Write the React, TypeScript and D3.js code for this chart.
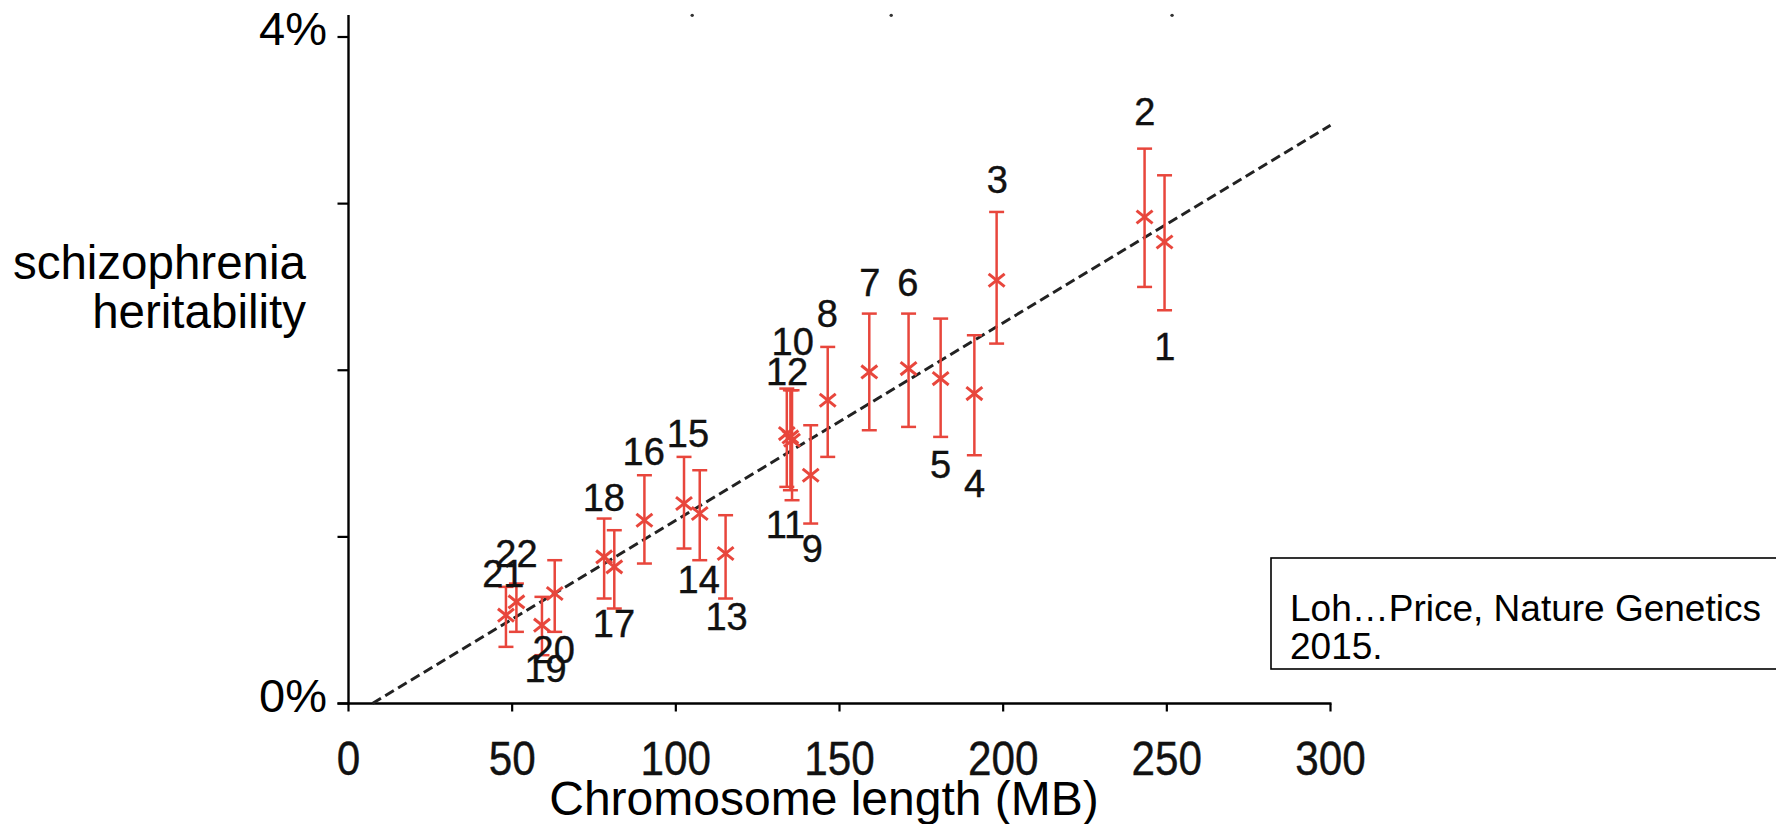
import React from "react";
import * as d3 from "d3";

// ---- data ----
const chromosomes = ["1","2","3","4","5","6","7","8","9","10","11","12","13","14","15","16","17","18","19","20","21","22"];
const lengthMB = [249.3, 243.2, 198.0, 191.2, 180.9, 171.1, 159.1, 146.4, 141.2, 135.5, 135.0, 133.9, 115.2, 107.3, 102.5, 90.4, 81.2, 78.1, 59.1, 63.0, 48.1, 51.3];
const heritability = [2.77, 2.92, 2.54, 1.86, 1.95, 2.01, 1.99, 1.82, 1.37, 1.58, 1.60, 1.62, 0.90, 1.14, 1.20, 1.10, 0.82, 0.88, 0.47, 0.66, 0.53, 0.61];
const errLow = [2.36, 2.50, 2.16, 1.49, 1.60, 1.66, 1.64, 1.48, 1.08, 1.22, 1.28, 1.30, 0.63, 0.86, 0.93, 0.84, 0.57, 0.63, 0.29, 0.43, 0.34, 0.43];
const errHigh = [3.17, 3.33, 2.95, 2.21, 2.31, 2.34, 2.34, 2.14, 1.67, 1.88, 1.88, 1.89, 1.13, 1.40, 1.48, 1.37, 1.04, 1.11, 0.64, 0.86, 0.70, 0.72];
// label anchor positions in data units (MB, %)
const labelMB = [249.4, 243.3, 198.2, 191.3, 180.9, 170.9, 159.3, 146.3, 141.7, 135.7, 133.5, 134.0, 115.5, 107.0, 103.7, 90.2, 81.1, 78.0, 60.2, 62.7, 47.3, 51.3];
const labelPct = [2.062, 3.472, 3.062, 1.241, 1.352, 2.446, 2.446, 2.262, 0.849, 2.092, 0.993, 1.912, 0.441, 0.665, 1.541, 1.432, 0.401, 1.157, 0.131, 0.241, 0.697, 0.821];
// regression (dashed) line endpoints
const fitMB = [7.3, 300];
const fitPct = [0, 3.47];
// tiny marks at the top of the picture
const topDotMB = [105, 165.8, 251.6];
const topDotPct = 4.13;

const xTicks = [0, 50, 100, 150, 200, 250, 300];
const yTicks = [0, 1, 2, 3, 4];
const yTickLabels: Record<number, string> = { 0: "0%", 4: "4%" };
const xTitle = "Chromosome length (MB)";
const yTitle = ["schizophrenia", "heritability"];
const citation = ["Loh\u2026Price, Nature Genetics", "2015."];

const RED = "#e8463c";
const FONT = "'Liberation Sans', Arial, Helvetica, sans-serif";

export default function App() {
  const x = d3.scaleLinear().domain([0, 300]).range([348.5, 1330.5]);
  const y = d3.scaleLinear().domain([0, 4]).range([703.5, 37]);

  const fitLine = d3.line<number>()
    .x((_, i) => x(fitMB[i]))
    .y((d) => y(d));

  const capHalf = 7.5;
  const mk = 8;

  return (
    <svg width={1776} height={824} style={{ position: "absolute", left: 0, top: 0, background: "#fff" }} fontFamily={FONT}>
      <rect x={0} y={0} width={1776} height={824} fill="#fff" />

      {/* top dots */}
      {topDotMB.map((m, i) => (
        <circle key={"td" + i} cx={x(m)} cy={y(topDotPct)} r={1.7} fill="#333" />
      ))}

      {/* axes */}
      <line x1={x(0)} x2={x(0)} y1={15} y2={y(0) + 1} stroke="#000" strokeWidth={2.4} />
      <line x1={x(0) - 11} x2={x(300) + 1} y1={y(0)} y2={y(0)} stroke="#000" strokeWidth={2.4} />
      {yTicks.map((t) => (
        <line key={"yt" + t} x1={x(0) - 11} x2={x(0)} y1={y(t)} y2={y(t)} stroke="#000" strokeWidth={2.2} />
      ))}
      {xTicks.map((t) => (
        <line key={"xt" + t} x1={x(t)} x2={x(t)} y1={y(0)} y2={y(0) + 8} stroke="#000" strokeWidth={2.2} />
      ))}
      {yTicks.filter((t) => yTickLabels[t]).map((t) => (
        <text key={"yl" + t} x={327} y={y(t) + 8} textAnchor="end" fontSize={47} fill="#000">
          {yTickLabels[t]}
        </text>
      ))}
      {xTicks.map((t) => {
        const s = String(t);
        return (
          <text key={"xl" + t} x={x(t)} y={775} textAnchor="middle" fontSize={49} fill="#111"
            stroke="#111" strokeWidth={0.4}
            textLength={s.length * 23.5} lengthAdjust="spacingAndGlyphs">
            {s}
          </text>
        );
      })}

      {/* titles */}
      <text x={824} y={815} textAnchor="middle" fontSize={48} fill="#000">{xTitle}</text>
      {yTitle.map((s, i) => (
        <text key={"yT" + i} x={306} y={279 + i * 49} textAnchor="end" fontSize={47.5} fill="#000">{s}</text>
      ))}

      {/* regression line */}
      <path d={fitLine(fitPct) || ""} fill="none" stroke="#222" strokeWidth={3} strokeDasharray="10 5" />

      {/* error bars & markers */}
      {chromosomes.map((c, i) => {
        const cx = x(lengthMB[i]);
        const yl = y(errLow[i]);
        const yh = y(errHigh[i]);
        const cy = y(heritability[i]);
        return (
          <g key={"p" + c} stroke={RED} fill="none">
            <line x1={cx} x2={cx} y1={yh} y2={yl} strokeWidth={2.5} />
            <line x1={cx - capHalf} x2={cx + capHalf} y1={yh} y2={yh} strokeWidth={2.5} />
            <line x1={cx - capHalf} x2={cx + capHalf} y1={yl} y2={yl} strokeWidth={2.5} />
            <line x1={cx - mk} x2={cx + mk} y1={cy - mk * 0.8} y2={cy + mk * 0.8} strokeWidth={3} />
            <line x1={cx - mk} x2={cx + mk} y1={cy + mk * 0.8} y2={cy - mk * 0.8} strokeWidth={3} />
          </g>
        );
      })}

      {/* chromosome labels */}
      {chromosomes.map((c, i) => (
        <text key={"l" + c} x={x(labelMB[i])} y={y(labelPct[i])} textAnchor="middle" fontSize={38}
          fill="#111" stroke="#111" strokeWidth={0.4}>
          {c}
        </text>
      ))}

      {/* citation box */}
      <rect x={1271} y={558} width={520} height={111} fill="#fff" stroke="#000" strokeWidth={1.6} />
      {citation.map((s, i) => (
        <text key={"c" + i} x={1290} y={621 + i * 38} fontSize={37} fill="#000">{s}</text>
      ))}
    </svg>
  );
}
